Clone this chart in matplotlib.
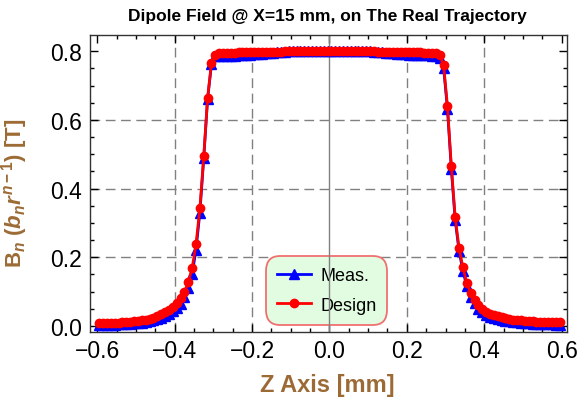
"""
Dipole field along the real trajectory: measured vs design
"""

import numpy as np
import matplotlib
matplotlib.use('Agg')
import matplotlib.pyplot as plt
from matplotlib.ticker import MultipleLocator

# Z positions [mm] of the samples
z = [-0.595, -0.585, -0.575, -0.565, -0.555, -0.545, -0.535, -0.525, -0.515, -0.505,
     -0.495, -0.485, -0.475, -0.465, -0.455, -0.445, -0.435, -0.425, -0.415, -0.405,
     -0.395, -0.385, -0.375, -0.365, -0.355, -0.345, -0.335, -0.325, -0.315, -0.305,
     -0.295, -0.285, -0.275, -0.265, -0.255, -0.245, -0.235, -0.225, -0.215, -0.205,
     -0.195, -0.185, -0.175, -0.165, -0.155, -0.145, -0.135, -0.125, -0.115, -0.105,
     -0.095, -0.085, -0.075, -0.065, -0.055, -0.045, -0.035, -0.025, -0.015, -0.005,
     0.005, 0.015, 0.025, 0.035, 0.045, 0.055, 0.065, 0.075, 0.085, 0.095,
     0.105, 0.115, 0.125, 0.135, 0.145, 0.155, 0.165, 0.175, 0.185, 0.195,
     0.205, 0.215, 0.225, 0.235, 0.245, 0.255, 0.265, 0.275, 0.285, 0.295,
     0.305, 0.315, 0.325, 0.335, 0.345, 0.355, 0.365, 0.375, 0.385, 0.395,
     0.405, 0.415, 0.425, 0.435, 0.445, 0.455, 0.465, 0.475, 0.485, 0.495,
     0.505, 0.515, 0.525, 0.535, 0.545, 0.555, 0.565, 0.575, 0.585, 0.595]

# Design field [T]
b_design = [0.007, 0.007, 0.008, 0.008, 0.009, 0.009, 0.010, 0.011, 0.012, 0.013,
            0.014, 0.016, 0.018, 0.021, 0.024, 0.028, 0.033, 0.039, 0.046, 0.055,
            0.066, 0.080, 0.099, 0.127, 0.168, 0.238, 0.342, 0.494, 0.664, 0.766,
            0.790, 0.794, 0.795, 0.796, 0.796, 0.796, 0.797, 0.797, 0.797, 0.797,
            0.798, 0.798, 0.798, 0.798, 0.799, 0.799, 0.799, 0.799, 0.800, 0.800,
            0.800, 0.800, 0.800, 0.800, 0.800, 0.800, 0.800, 0.800, 0.800, 0.800,
            0.800, 0.800, 0.800, 0.800, 0.800, 0.800, 0.800, 0.800, 0.800, 0.800,
            0.800, 0.800, 0.799, 0.799, 0.799, 0.799, 0.799, 0.798, 0.798, 0.798,
            0.798, 0.797, 0.797, 0.797, 0.796, 0.796, 0.795, 0.794, 0.789, 0.760,
            0.640, 0.465, 0.316, 0.226, 0.170, 0.125, 0.095, 0.076, 0.060, 0.048,
            0.040, 0.035, 0.031, 0.028, 0.025, 0.022, 0.020, 0.018, 0.017, 0.016,
            0.015, 0.014, 0.013, 0.012, 0.012, 0.011, 0.011, 0.010, 0.010, 0.010]

# Measured field [T]
b_meas = [0.002, 0.002, 0.003, 0.003, 0.003, 0.004, 0.004, 0.005, 0.006, 0.007,
          0.008, 0.009, 0.011, 0.013, 0.016, 0.019, 0.023, 0.028, 0.034, 0.042,
          0.052, 0.065, 0.084, 0.110, 0.150, 0.222, 0.330, 0.488, 0.662, 0.762,
          0.785, 0.787, 0.787, 0.787, 0.787, 0.787, 0.788, 0.788, 0.789, 0.790,
          0.791, 0.792, 0.793, 0.794, 0.795, 0.796, 0.797, 0.798, 0.799, 0.800,
          0.800, 0.800, 0.800, 0.800, 0.800, 0.800, 0.800, 0.800, 0.800, 0.800,
          0.800, 0.800, 0.800, 0.800, 0.800, 0.800, 0.800, 0.800, 0.800, 0.800,
          0.800, 0.799, 0.798, 0.797, 0.796, 0.795, 0.794, 0.793, 0.792, 0.791,
          0.790, 0.789, 0.789, 0.788, 0.788, 0.788, 0.787, 0.786, 0.780, 0.752,
          0.632, 0.458, 0.308, 0.218, 0.160, 0.115, 0.085, 0.066, 0.050, 0.039,
          0.032, 0.027, 0.023, 0.020, 0.017, 0.015, 0.013, 0.011, 0.010, 0.009,
          0.008, 0.007, 0.006, 0.006, 0.005, 0.005, 0.004, 0.004, 0.003, 0.003]

x_ticks = [-0.6, -0.4, -0.2, 0.0, 0.2, 0.4, 0.6]
y_ticks = [0.0, 0.2, 0.4, 0.6, 0.8]

label_color = '#9C6B35'

plt.rcParams['font.family'] = ['Liberation Sans', 'DejaVu Sans']
plt.rcParams['mathtext.fontset'] = 'custom'
plt.rcParams['mathtext.rm'] = 'Liberation Sans:bold'
plt.rcParams['mathtext.it'] = 'Liberation Sans:bold:italic'
plt.rcParams['mathtext.bf'] = 'Liberation Sans:bold'

fig = plt.figure(figsize=(5.78, 4.02), dpi=100)
ax = fig.add_axes([90 / 578, 1 - 333 / 402, 477 / 578, 297 / 402])

ax.plot(z, b_meas, color='blue', lw=2, marker='^', ms=6.5, zorder=3, label='Meas.')
ax.plot(z, b_design, color='red', lw=2, marker='o', ms=6, zorder=4, label='Design')

ax.set_xlim(-0.619, 0.614)
ax.set_ylim(-0.018, 0.8475)

# grid lines (the one at zero is a solid axis line)
for gx in [-0.4, -0.2, 0.2, 0.4]:
    ax.axvline(gx, color='gray', lw=1, ls=(0, (7, 4)), zorder=1)
for gy in [0.2, 0.4, 0.6]:
    ax.axhline(gy, color='gray', lw=1, ls=(0, (7, 4)), zorder=1)
ax.axvline(0.0, color='gray', lw=1, zorder=2.5)

ax.set_xticks(x_ticks)
ax.set_yticks(y_ticks)
ax.set_xticklabels(['\u2212' + f'{abs(v):.1f}' if v < 0 else f'{v:.1f}' for v in x_ticks])
ax.set_yticklabels([f'{v:.1f}' for v in y_ticks])
ax.xaxis.set_minor_locator(MultipleLocator(0.05))
ax.yaxis.set_minor_locator(MultipleLocator(0.05))
ax.tick_params(which='both', direction='in', top=True, right=True, labelsize=16.5, width=1)
ax.tick_params(which='major', length=6)
ax.tick_params(which='minor', length=3)
ax.tick_params(axis='x', pad=5)
ax.tick_params(axis='y', pad=6)
for sp in ax.spines.values():
    sp.set_color('#333333')
    sp.set_linewidth(1)

ax.set_ylabel(r'B$_n$ ($b_n r^{n-1}$) [T]', fontsize=16, fontweight='bold', color=label_color)
ax.yaxis.set_label_coords(-0.125, 0.47)
fig.text(327 / 578, 1 - 386 / 402, 'Z Axis [mm]', fontsize=17, fontweight='bold',
         color=label_color, ha='center', va='center')
fig.text(327.5 / 578, 1 - 17 / 402, 'Dipole Field @ X=15 mm, on The Real Trajectory',
         fontsize=12.5, fontweight='bold', ha='center', va='center')

leg = ax.legend(loc='center', bbox_to_anchor=(0.496, 0.14), fontsize=13, frameon=True,
                fancybox=True, handlelength=1.9, handletextpad=0.5, labelspacing=0.7,
                borderpad=0.6, framealpha=1)
frame = leg.get_frame()
frame.set_facecolor('#E2FCE2')
frame.set_edgecolor('#F07070')
frame.set_linewidth(1.3)
frame.set_boxstyle('round', pad=0, rounding_size=0.8)
leg.set_zorder(2)

fig.savefig('out.png', dpi=100)
